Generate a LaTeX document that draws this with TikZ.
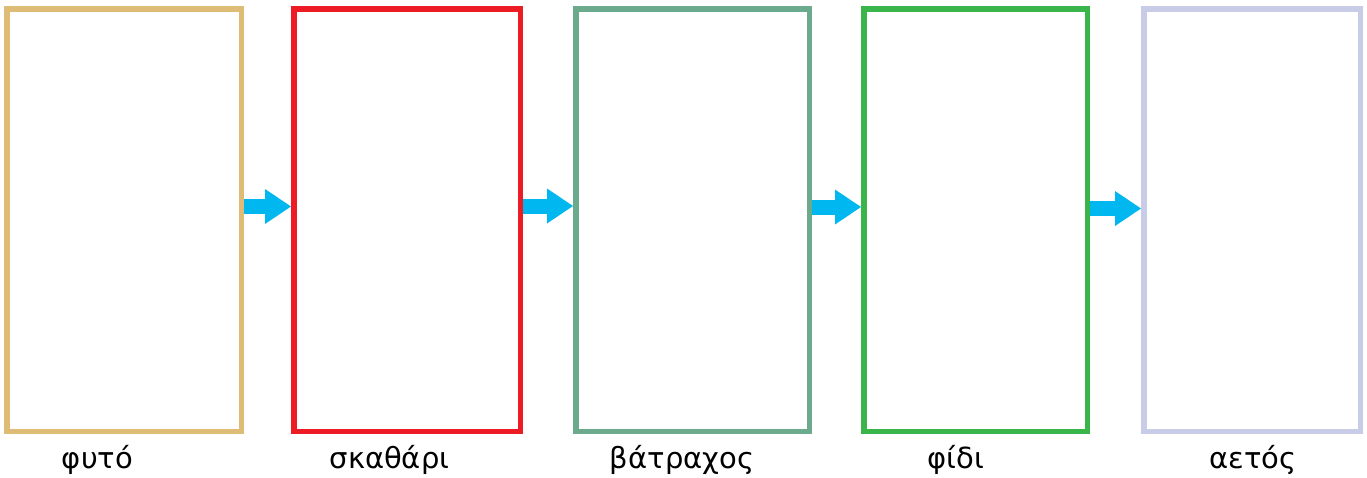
\documentclass[tikz,border=0pt]{standalone}
\usepackage{fontspec}
\setmainfont{DejaVu Sans}
\usepackage{tikz}
\usetikzlibrary{arrows.meta,positioning}

\definecolor{plantc}{RGB}{222,188,118}
\definecolor{beetlec}{RGB}{237,28,36}
\definecolor{frogc}{RGB}{108,170,142}
\definecolor{snakec}{RGB}{57,181,74}
\definecolor{eaglec}{RGB}{200,204,230}
\definecolor{flowc}{RGB}{0,183,239}

\begin{document}
\begin{tikzpicture}[x=1pt,y=1pt,node distance=47pt]
  \tikzstyle{box}=[draw,rectangle,line width=5.5pt,minimum height=422.5pt,inner sep=0pt]
  \tikzstyle{flow}=[draw=flowc,line width=15pt,
    -{Triangle[width=35pt 0 0,length=26pt 0 0,line width=0pt 0 0,fill=flowc]}]
  \tikzstyle{animal}=[anchor=base,font=\fontsize{29}{34}\selectfont,inner sep=0pt]

  \useasboundingbox (0,0) rectangle (1367,-477);

  \node[box,draw=plantc,minimum width=234.5pt,anchor=north west] (b1) at (4,-6) {};
  \node[box,draw=beetlec,minimum width=226.5pt] (b2) [right=47pt of b1] {};
  \node[box,draw=frogc,minimum width=233.5pt]  (b3) [right=50pt of b2] {};
  \node[box,draw=snakec,minimum width=223.5pt] (b4) [right=49pt of b3] {};
  \node[box,draw=eaglec,minimum width=216.5pt] (b5) [right=51pt of b4] {};

  \node[animal] (n1) at (97.5,-468) {φυτό};
  \node[animal] (n2) at (389.5,-468) {σκαθάρι};
  \node[animal] (n3) at (682,-468) {βάτραχος};
  \node[animal] (n4) at (956,-468) {φίδι};
  \node[animal] (n5) at (1253,-468) {αετός};

  \draw[flow] ([yshift=13.5pt]b1.east) -- ([yshift=13.5pt]b2.west);
  \draw[flow] ([yshift=14pt]b2.east) -- ([yshift=14pt]b3.west);
  \draw[flow] ([yshift=13pt]b3.east) -- ([yshift=13pt]b4.west);
  \draw[flow] ([yshift=11.5pt]b4.east) -- ([yshift=11.5pt]b5.west);
\end{tikzpicture}
\end{document}
